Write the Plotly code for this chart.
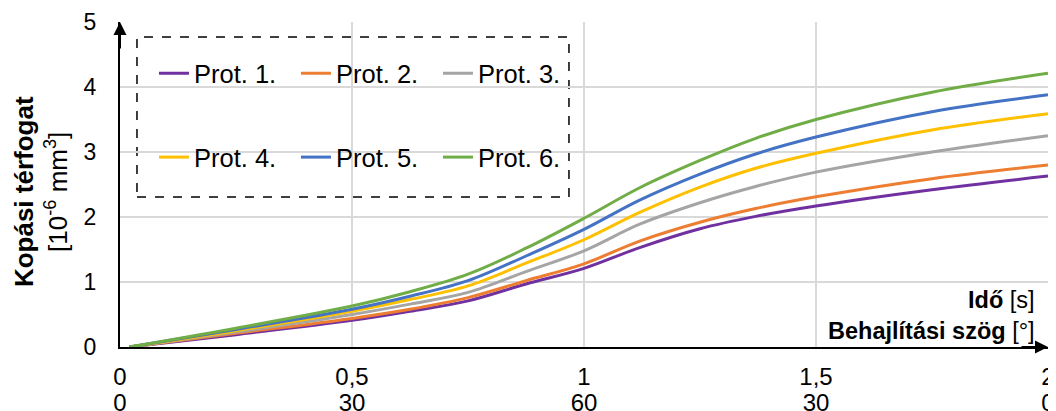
import plotly.graph_objects as go

# ---- data ----
x_time = [0.02, 0.25, 0.5, 0.625, 0.75, 0.875, 1.0, 1.12, 1.25, 1.37, 1.5, 1.75, 2.0]
series_names = ["Prot. 1.", "Prot. 2.", "Prot. 3.", "Prot. 4.", "Prot. 5.", "Prot. 6."]
prot1 = [0, 0.19, 0.41, 0.55, 0.71, 0.97, 1.21, 1.53, 1.82, 2.01, 2.17, 2.42, 2.63]
prot2 = [0, 0.21, 0.44, 0.58, 0.76, 1.02, 1.28, 1.63, 1.92, 2.13, 2.31, 2.59, 2.80]
prot3 = [0, 0.23, 0.50, 0.66, 0.84, 1.16, 1.48, 1.89, 2.22, 2.47, 2.69, 3.00, 3.25]
prot4 = [0, 0.25, 0.55, 0.73, 0.94, 1.29, 1.65, 2.07, 2.46, 2.75, 2.98, 3.34, 3.59]
prot5 = [0, 0.27, 0.58, 0.78, 1.02, 1.40, 1.81, 2.26, 2.66, 2.97, 3.23, 3.62, 3.88]
prot6 = [0, 0.29, 0.63, 0.85, 1.12, 1.52, 1.98, 2.45, 2.87, 3.21, 3.50, 3.92, 4.21]
series_values = [prot1, prot2, prot3, prot4, prot5, prot6]
colors = ["#7030a0", "#ed7d31", "#a5a5a5", "#ffc000", "#4472c4", "#70ad47"]

x_tickvals = [0, 0.5, 1, 1.5, 2]
x_ticktext_time = ["0", "0,5", "1", "1,5", "2"]
x_ticktext_angle = ["0", "30", "60", "30", "0"]
y_tickvals = [0, 1, 2, 3, 4, 5]

FONT = "Liberation Sans, Arial, sans-serif"

fig = go.Figure()
for i, (name, vals, col) in enumerate(zip(series_names, series_values, colors)):
    fig.add_trace(go.Scatter(
        x=x_time, y=vals, name=name, mode="lines",
        line=dict(color=col, width=3, shape="spline", smoothing=1.0),
        legend="legend" if i < 3 else "legend2",
    ))

legend_common = dict(
    orientation="h", xanchor="left", yanchor="middle",
    bgcolor="rgba(0,0,0,0)", borderwidth=0,
    font=dict(family=FONT, size=25.5, color="#000000"),
    entrywidth=97, entrywidthmode="pixels", tracegroupgap=0,
)

# the page body has an 8px margin, so the figure is sized/margined to compensate
fig.update_layout(
    width=1048, height=403,
    margin=dict(l=112, r=8, t=14, b=64, autoexpand=False),
    paper_bgcolor="white", plot_bgcolor="white",
    font=dict(family=FONT, size=24, color="#000000"),
    legend=dict(x=0.0366, y=0.841, **legend_common),
    legend2=dict(x=0.0366, y=0.583, **legend_common),
    xaxis=dict(
        range=[0, 2], tickvals=x_tickvals, ticktext=x_ticktext_time,
        showgrid=True, gridcolor="#d9d9d9", gridwidth=1.5,
        showline=True, linecolor="#000000", linewidth=2,
        ticks="", ticklabelstandoff=7, zeroline=False, automargin=False,
        tickfont=dict(family=FONT, size=24),
    ),
    xaxis2=dict(
        range=[0, 2], overlaying="x", side="bottom", anchor="y",
        tickvals=x_tickvals, ticktext=x_ticktext_angle,
        showgrid=False, showline=False, zeroline=False, ticks="", automargin=False,
        ticklabelstandoff=39, tickfont=dict(family=FONT, size=24),
    ),
    yaxis=dict(
        range=[0, 5], tickvals=y_tickvals,
        showgrid=True, gridcolor="#d9d9d9", gridwidth=1.5,
        showline=True, linecolor="#000000", linewidth=2,
        ticks="", ticklabelstandoff=17, zeroline=False, automargin=False,
        tickfont=dict(family=FONT, size=23),
    ),
)

# invisible helper trace so that the second (angle) x axis is drawn
fig.add_trace(go.Scatter(x=[0], y=[0], xaxis="x2", mode="markers",
                         marker=dict(opacity=0), showlegend=False, hoverinfo="skip"))

# dashed legend frame
fig.add_shape(type="rect", xref="paper", yref="paper",
              x0=0.0183, x1=0.4838, y0=0.4615, y1=0.954,
              line=dict(color="#000000", width=1.5, dash="dash"),
              fillcolor="white", layer="between")

# axis arrows
fig.add_annotation(x=0, y=5, xref="x", yref="y", ax=0, ay=28, axref="pixel", ayref="pixel",
                   text="", showarrow=True, arrowhead=2, arrowsize=1.3, arrowwidth=2,
                   arrowcolor="#000000")
fig.add_annotation(x=2, y=0, xref="x", yref="y", ax=-28, ay=0, axref="pixel", ayref="pixel",
                   text="", showarrow=True, arrowhead=2, arrowsize=1.3, arrowwidth=2,
                   arrowcolor="#000000")

# axis titles
fig.add_annotation(x=0.988, y=0.098, xref="paper", yref="paper",
                   xanchor="right", yanchor="middle", align="right", showarrow=False,
                   text="<b>Idő</b> [s]<br><b>Behajlítási szög</b> [°]",
                   font=dict(family=FONT, size=23.5, color="#000000"))
fig.add_annotation(x=-0.085, y=0.477, xref="paper", yref="paper",
                   xanchor="center", yanchor="middle", showarrow=False, textangle=-90,
                   text="<b>Kopási térfogat</b><br>[10<sup>-6</sup> mm<sup>3</sup>]",
                   font=dict(family=FONT, size=26, color="#000000"))

fig.write_html("out.html")
